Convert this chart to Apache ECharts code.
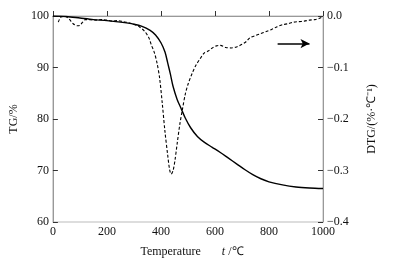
<!DOCTYPE html>
<html>
<head>
<meta charset="utf-8">
<style>
  html, body { margin: 0; padding: 0; background: #fff; }
  #chart { width: 393px; height: 263px; }
</style>
<script src="https://cdn.jsdelivr.net/npm/echarts@6/dist/echarts.min.js"></script>
</head>
<body>
<div id="chart"></div>
<script>
var dom = document.getElementById("chart");
var myChart = echarts.init(dom);

// TG curve (left axis, %)
var tgTemp = [0, 50, 100, 150, 200, 250, 300, 330, 360, 380, 400, 415, 425, 435, 445, 460, 475, 490, 510, 535, 560, 590, 620, 650, 680, 710, 740, 770, 800, 850, 900, 950, 1000];
var tgValue = [100, 99.9, 99.6, 99.3, 99.1, 98.8, 98.4, 98.0, 97.2, 96.3, 94.8, 93.0, 90.9, 88.7, 86.3, 83.8, 82.0, 80.2, 78.3, 76.6, 75.5, 74.5, 73.5, 72.4, 71.3, 70.2, 69.2, 68.4, 67.8, 67.2, 66.8, 66.6, 66.5];

// DTG curve (right axis, %/℃)
var dtgTemp = [20, 30, 45, 60, 75, 90, 100, 110, 120, 140, 160, 180, 200, 220, 240, 260, 280, 300, 320, 340, 355, 365, 375, 385, 395, 405, 415, 425, 432, 438, 445, 452, 460, 470, 480, 490, 500, 515, 530, 545, 560, 575, 590, 605, 620, 640, 660, 680, 700, 715, 730, 750, 770, 790, 810, 830, 850, 870, 890, 910, 930, 950, 970, 990, 1000];
var dtgValue = [-0.012, -0.002, -0.001, -0.006, -0.015, -0.019, -0.018, -0.012, -0.007, -0.007, -0.008, -0.007, -0.008, -0.010, -0.009, -0.011, -0.013, -0.016, -0.021, -0.030, -0.042, -0.057, -0.070, -0.090, -0.120, -0.170, -0.225, -0.270, -0.298, -0.307, -0.300, -0.280, -0.248, -0.210, -0.180, -0.152, -0.133, -0.112, -0.095, -0.083, -0.072, -0.068, -0.062, -0.058, -0.057, -0.061, -0.062, -0.060, -0.055, -0.050, -0.042, -0.038, -0.034, -0.030, -0.026, -0.021, -0.017, -0.015, -0.012, -0.011, -0.010, -0.008, -0.007, -0.004, -0.001];

// arrow pointing to the right axis
var arrowTemp = [832, 950];
var arrowDtg = -0.0535;

function pairs(xs, ys) {
    var out = [];
    for (var i = 0; i < xs.length; i++) out.push([xs[i], ys[i]]);
    return out;
}

var font = 'Liberation Serif';
var axisGray = '#999';

var option = {
    animation: false,
    textStyle: { fontFamily: font },
    grid: {
        left: 51,
        right: 70,
        top: 16,
        bottom: 38,
        show: true,
        borderColor: '#bbb',
        borderWidth: 1
    },
    xAxis: {
        type: 'value',
        min: 0,
        max: 1000,
        interval: 200,
        name: '{a|Temperature}       {b|t} /℃',
        nameLocation: 'middle',
        nameGap: 24,
        nameTextStyle: {
            rich: {
                a: { fontFamily: font, fontSize: 12, color: '#111' },
                b: { fontFamily: font, fontSize: 12, fontStyle: 'italic', color: '#111' }
            },
            fontFamily: font, fontSize: 12, color: '#111',
            padding: [0, 0, 0, 8]
        },
        axisLine: { lineStyle: { color: axisGray, width: 1 } },
        axisTick: { inside: true, length: 5, lineStyle: { color: '#333' } },
        axisLabel: {
            margin: 4, fontFamily: font, fontSize: 12, color: '#111',
            formatter: function (v) { return String(v); }
        },
        splitLine: { show: false }
    },
    yAxis: [{
        type: 'value',
        min: 60,
        max: 100,
        interval: 10,
        name: 'TG/%',
        nameLocation: 'middle',
        nameRotate: 90,
        nameGap: 25,
        nameTextStyle: { fontFamily: font, fontSize: 12, color: '#111' },
        axisLine: { show: true, lineStyle: { color: axisGray, width: 1 } },
        axisTick: { show: true, inside: true, length: 5, lineStyle: { color: '#333' } },
        axisLabel: { margin: 4, fontFamily: font, fontSize: 12, color: '#111' },
        splitLine: { show: false }
    }, {
        type: 'value',
        min: -0.4,
        max: 0,
        interval: 0.1,
        position: 'right',
        name: 'DTG/(%·℃⁻¹)',
        nameLocation: 'middle',
        nameRotate: 90,
        nameGap: 43,
        nameTextStyle: { fontFamily: font, fontSize: 12, color: '#111' },
        axisLine: { show: true, lineStyle: { color: axisGray, width: 1 } },
        axisTick: { show: true, inside: true, length: 5, lineStyle: { color: '#333' } },
        axisLabel: {
            margin: 4, fontFamily: font, fontSize: 12, color: '#111',
            formatter: function (v) {
                var s = Math.abs(v).toFixed(1);
                return v < -1e-9 ? '\u2212' + s : s;
            }
        },
        splitLine: { show: false }
    }],
    series: [{
        name: 'TG',
        type: 'line',
        yAxisIndex: 0,
        smooth: 0.3,
        showSymbol: false,
        data: pairs(tgTemp, tgValue),
        lineStyle: { color: '#000', width: 1.4 }
    }, {
        name: 'DTG',
        type: 'line',
        yAxisIndex: 1,
        smooth: 0.3,
        showSymbol: false,
        data: pairs(dtgTemp, dtgValue),
        lineStyle: { color: '#000', width: 1.1, type: [3, 2] },
        markLine: {
            silent: true,
            symbol: ['none', 'arrow'],
            symbolSize: [7, 9],
            label: { show: false },
            lineStyle: { color: '#000', width: 1.6, type: 'solid' },
            data: [[{ coord: [arrowTemp[0], arrowDtg] }, { coord: [arrowTemp[1], arrowDtg] }]]
        }
    }]
};

myChart.setOption(option);

window.addEventListener("resize", function () {
    myChart.resize();
});
</script>
</body>
</html>
